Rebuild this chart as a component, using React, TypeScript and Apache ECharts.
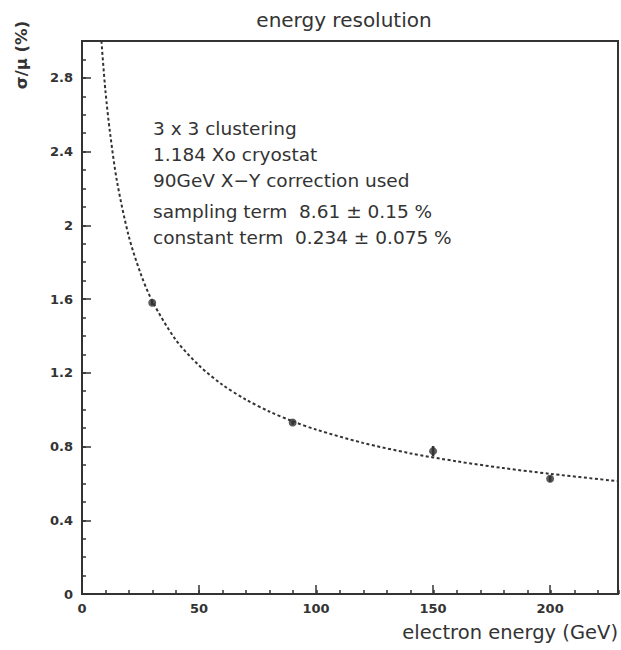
import React, { useEffect, useRef } from 'react';
import * as echarts from 'echarts';

// measured points (electron energy in GeV, resolution sigma/mu in %)
const energies = [30, 90, 150, 200];
const resolution = [1.58, 0.93, 0.775, 0.625];
const resolutionErr = [0.012, 0.012, 0.028, 0.016];

// fitted curve
const fitEnergy = [8.3, 10, 12, 15, 20, 25, 30, 40, 50, 60, 70, 80, 90, 100, 120, 140, 160, 180, 200, 229];
const fitResolution = [3.0, 2.73, 2.5, 2.235, 1.94, 1.74, 1.59, 1.38, 1.24, 1.135, 1.055, 0.99, 0.937, 0.892, 0.82, 0.764, 0.72, 0.683, 0.652, 0.612];

const xTickLabels = [0, 50, 100, 150, 200];
const yTickLabels = [0, 0.4, 0.8, 1.2, 1.6, 2, 2.4, 2.8];

const titleText = 'energy resolution';
const xName = 'electron energy (GeV)';
const yName = 'σ/μ (%)';
const notes = [
  '3 x 3 clustering',
  '1.184 Xo cryostat',
  '90GeV X−Y correction used',
  'sampling term  8.61 ± 0.15 %',
  'constant term  0.234 ± 0.075 %',
];
const noteY = [128, 154, 180, 211, 237];

const INK = '#333333';
const FONT = '"DejaVu Sans", sans-serif';

export default function App() {
  const ref = useRef<HTMLDivElement>(null);

  useEffect(() => {
    if (!ref.current) return;
    const chart = echarts.init(ref.current, undefined, { renderer: 'svg' });
    const grid = { left: 82, right: 2, top: 41, bottom: 56 };
    const labelStyle = { color: INK, fontSize: 13, fontWeight: 'bold' as const, fontFamily: FONT };

    chart.setOption({
      animation: false,
      backgroundColor: '#ffffff',
      grid: [
        { ...grid, show: true, borderColor: INK, borderWidth: 2, backgroundColor: 'transparent' },
        { ...grid, show: false },
      ],
      xAxis: [
        {
          type: 'value', gridIndex: 0, min: 0, max: 229, interval: 50,
          axisLine: { show: true, lineStyle: { color: INK, width: 2 } },
          axisTick: { show: true, inside: true, length: 9, lineStyle: { color: INK, width: 1.5 } },
          axisLabel: {
            ...labelStyle, margin: 8,
            formatter: (v: number) => (xTickLabels.some((t) => Math.abs(t - v) < 1e-6) ? String(v) : ''),
          },
          splitLine: { show: false },
        },
        {
          type: 'value', gridIndex: 1, min: 0, max: 229, interval: 10,
          axisLine: { show: false },
          axisTick: { show: true, inside: true, length: 4, lineStyle: { color: INK, width: 1.5 } },
          axisLabel: { show: false },
          splitLine: { show: false },
        },
      ],
      yAxis: [
        {
          type: 'value', gridIndex: 0, min: 0, max: 3, interval: 0.4,
          axisLine: { show: true, lineStyle: { color: INK, width: 2 } },
          axisTick: { show: true, inside: true, length: 9, lineStyle: { color: INK, width: 1.5 } },
          axisLabel: {
            ...labelStyle, margin: 9,
            formatter: (v: number) => {
              const hit = yTickLabels.find((t) => Math.abs(t - v) < 1e-6);
              return hit === undefined ? '' : String(hit);
            },
          },
          splitLine: { show: false },
        },
        {
          type: 'value', gridIndex: 1, min: 0, max: 3, interval: 0.1,
          axisLine: { show: false },
          axisTick: { show: true, inside: true, length: 4, lineStyle: { color: INK, width: 1.5 } },
          axisLabel: { show: false },
          splitLine: { show: false },
        },
      ],
      series: [
        {
          type: 'line',
          xAxisIndex: 0, yAxisIndex: 0,
          data: fitEnergy.map((x, i) => [x, fitResolution[i]]),
          smooth: 0.3,
          showSymbol: false,
          symbol: 'none',
          clip: true,
          lineStyle: { color: INK, width: 2, type: [3, 2.5] },
          z: 2,
        },
        {
          type: 'custom',
          xAxisIndex: 0, yAxisIndex: 0,
          data: energies.map((x, i) => [x, resolution[i] - resolutionErr[i], resolution[i] + resolutionErr[i]]),
          renderItem: (params: any, api: any) => {
            const lo = api.coord([api.value(0), api.value(1)]);
            const hi = api.coord([api.value(0), api.value(2)]);
            return {
              type: 'line',
              shape: { x1: lo[0], y1: lo[1], x2: hi[0], y2: hi[1] },
              style: { stroke: INK, lineWidth: 2.5 },
            };
          },
          z: 3,
        },
        {
          type: 'scatter',
          xAxisIndex: 0, yAxisIndex: 0,
          data: energies.map((x, i) => [x, resolution[i]]),
          symbol: 'circle',
          symbolSize: 8,
          itemStyle: { color: INK },
          z: 4,
        },
      ],
      graphic: [
        {
          type: 'text', x: 344, y: 20,
          style: { text: titleText, align: 'center', verticalAlign: 'middle', fontSize: 20, fill: INK, fontFamily: FONT },
        },
        {
          type: 'text', x: 618, y: 632,
          style: { text: xName, align: 'right', verticalAlign: 'middle', fontSize: 19.5, fill: INK, fontFamily: FONT },
        },
        {
          type: 'text', x: 21, y: 55, rotation: Math.PI / 2,
          style: { text: yName, align: 'center', verticalAlign: 'middle', fontSize: 16.5, fontWeight: 'bold', fill: INK, fontFamily: FONT },
        },
        ...notes.map((t, i) => ({
          type: 'text', x: 153, y: noteY[i],
          style: { text: t, align: 'left', verticalAlign: 'middle', fontSize: 18.5, fill: INK, fontFamily: FONT },
        })),
      ],
    });
    return () => chart.dispose();
  }, []);

  return (
    <div
      ref={ref}
      style={{ position: 'fixed', left: 0, top: 0, width: 621, height: 650, background: '#fff' }}
    />
  );
}
